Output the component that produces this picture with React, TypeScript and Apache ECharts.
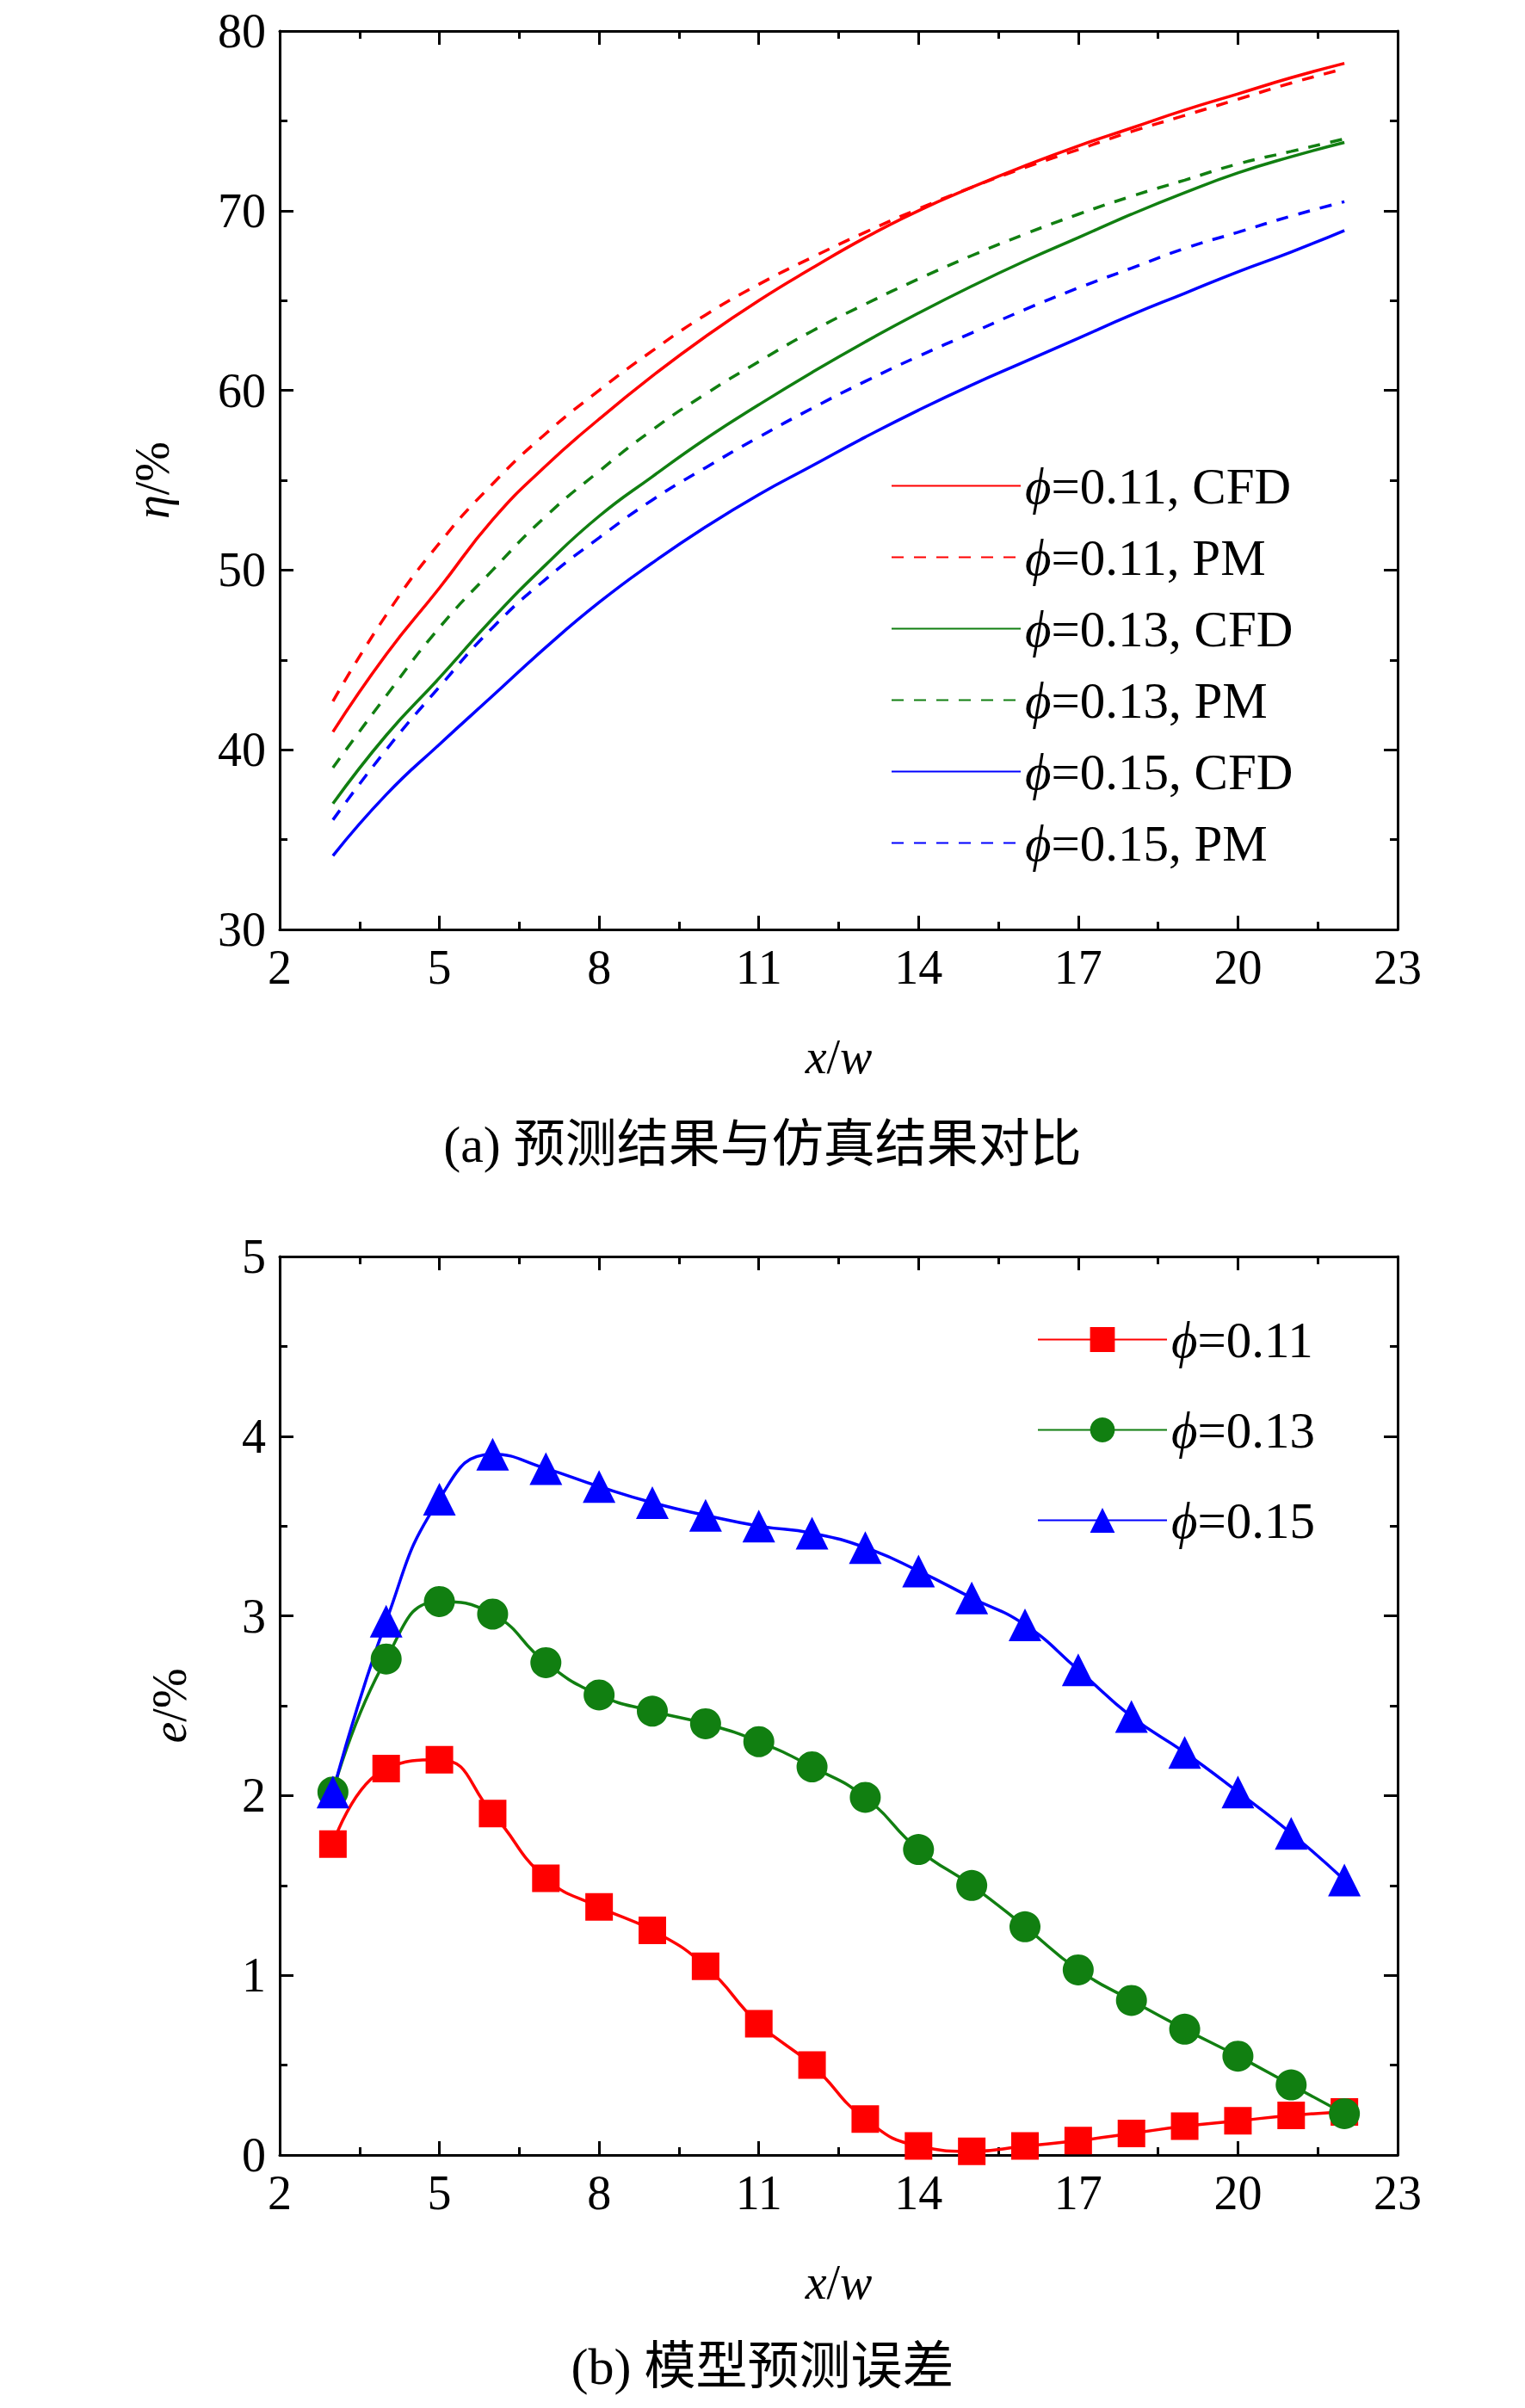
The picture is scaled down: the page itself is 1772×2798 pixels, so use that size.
import { useEffect, useRef } from "react";
import * as echarts from "echarts";

const XS = [3, 4, 5, 6, 7, 8, 9, 10, 11, 12, 13, 14, 15, 16, 17, 18, 19, 20, 21, 22];

// (a) efficiency eta/%
const RED_CFD = [41, 45.3, 49, 52.8, 55.8, 58.4, 60.8, 63, 65, 66.8, 68.5, 70, 71.3, 72.5, 73.6, 74.6, 75.6, 76.5, 77.4, 78.2];
const RED_PM = [42.7, 47.5, 51.5, 54.8, 57.6, 60, 62.2, 64.2, 65.9, 67.4, 68.8, 70.1, 71.3, 72.4, 73.4, 74.4, 75.3, 76.2, 77.1, 77.9];
const GREEN_CFD = [37, 40.8, 44, 47.3, 50.3, 53, 55.2, 57.3, 59.2, 61, 62.7, 64.3, 65.8, 67.2, 68.5, 69.8, 71, 72.1, 73, 73.8];
const GREEN_PM = [39, 43, 46.8, 50, 53, 55.5, 57.8, 59.8, 61.6, 63.3, 64.8, 66.2, 67.5, 68.7, 69.8, 70.8, 71.7, 72.6, 73.3, 74];
const BLUE_CFD = [34.1, 37.5, 40.3, 43, 45.7, 48.2, 50.4, 52.4, 54.2, 55.8, 57.4, 58.9, 60.3, 61.6, 62.9, 64.2, 65.4, 66.6, 67.7, 68.9];
const BLUE_PM = [36.1, 40, 43.5, 46.8, 49.5, 51.8, 53.9, 55.7, 57.4, 59, 60.5, 61.9, 63.2, 64.5, 65.7, 66.8, 67.9, 68.8, 69.7, 70.5];

// (b) error e/%
const ERR_11 = [1.73, 2.15, 2.2, 1.9, 1.54, 1.38, 1.25, 1.05, 0.73, 0.5, 0.2, 0.05, 0.02, 0.05, 0.08, 0.12, 0.16, 0.19, 0.22, 0.24];
const ERR_13 = [2.02, 2.76, 3.08, 3.01, 2.74, 2.56, 2.47, 2.4, 2.3, 2.16, 1.99, 1.7, 1.5, 1.27, 1.03, 0.86, 0.7, 0.55, 0.39, 0.23];
const ERR_15 = [2.02, 2.97, 3.65, 3.9, 3.82, 3.72, 3.63, 3.56, 3.5, 3.46, 3.38, 3.25, 3.1, 2.95, 2.7, 2.44, 2.24, 2.02, 1.79, 1.53];

const RED = "#FF0000";
const GREEN = "#117F11";
const BLUE = "#0000FF";
const SERIF = "Liberation Serif";
const CJK = "Noto Sans CJK SC";
const FS = 56;

const pts = (ys: number[]) => XS.map((x, i) => [x, ys[i]]);

function axisPair(grid: number, min: number, max: number, interval: number, dim: "x" | "y", name?: string, nameGap?: number) {
  const base = {
    gridIndex: grid,
    type: "value" as const,
    min,
    max,
    interval,
    axisLine: { show: true, onZero: false, lineStyle: { color: "#000", width: 3 } },
    axisTick: { show: true, inside: true, length: 16, lineStyle: { color: "#000", width: 3 } },
    minorTick: { show: true, splitNumber: 2, length: 9, lineStyle: { color: "#000", width: 3 } },
    splitLine: { show: false },
  };
  const rich = { i: { fontFamily: SERIF, fontStyle: "italic" as const, fontSize: FS }, n: { fontFamily: SERIF, fontSize: FS } };
  return [
    {
      ...base,
      position: dim === "x" ? "bottom" : "left",
      name,
      nameLocation: "middle" as const,
      nameGap,
      nameTextStyle: { color: "#000", fontFamily: SERIF, fontSize: FS, rich },
      axisLabel: { color: "#000", fontFamily: SERIF, fontSize: FS, margin: 16 },
    },
    { ...base, position: dim === "x" ? "top" : "right", axisLabel: { show: false } },
  ];
}

const legendRich = {
  i: { fontFamily: SERIF, fontStyle: "italic" as const, fontSize: 59, color: "#000" },
  n: { fontFamily: SERIF, fontSize: 59, color: "#000" },
};
const legendFmt = (name: string) => `{i|ϕ}{n|${name.slice(1)}}`;

export default function App() {
  const ref = useRef<HTMLDivElement>(null);

  useEffect(() => {
    document.body.style.margin = "0";
    if (!ref.current) return;
    const chart = echarts.init(ref.current, undefined, { renderer: "svg" });

    const line = (name: string, data: number[], color: string, dashed: boolean) => ({
      name,
      type: "line" as const,
      xAxisIndex: 0,
      yAxisIndex: 0,
      data: pts(data),
      smooth: true,
      showSymbol: false,
      symbol: "none",
      itemStyle: { color },
      lineStyle: { color, width: 3.5, type: dashed ? ([14, 12] as number[]) : ("solid" as const) },
    });
    const marker = (name: string, data: number[], color: string, symbol: string, size: number) => ({
      name,
      type: "line" as const,
      xAxisIndex: 2,
      yAxisIndex: 2,
      data: pts(data),
      smooth: true,
      symbol,
      symbolSize: size,
      itemStyle: { color },
      lineStyle: { color, width: 3.5 },
    });

    const [xa0, xa1] = axisPair(0, 2, 23, 3, "x", "{i|x}{n|/}{i|w}", 120);
    const [xb0, xb1] = axisPair(1, 2, 23, 3, "x", "{i|x}{n|/}{i|w}", 120);
    const [ya0, ya1] = axisPair(0, 30, 80, 10, "y", "{i|η}{n|/%}", 120);
    const [yb0, yb1] = axisPair(1, 0, 5, 1, "y", "{i|e}{n|/%}", 100);

    chart.setOption({
      animation: false,
      backgroundColor: "#fff",
      grid: [
        { left: 325, top: 36, width: 1299, height: 1044 },
        { left: 325, top: 1460, width: 1299, height: 1044 },
      ],
      xAxis: [xa0, xa1, xb0, xb1],
      yAxis: [ya0, ya1, yb0, yb1],
      legend: [
        {
          data: ["φ=0.11, CFD", "φ=0.11, PM", "φ=0.13, CFD", "φ=0.13, PM", "φ=0.15, CFD", "φ=0.15, PM"],
          orient: "vertical",
          left: 1030,
          top: 530,
          itemWidth: 150,
          itemHeight: 20,
          itemGap: 24,
          itemStyle: { opacity: 0 },
          formatter: legendFmt,
          textStyle: { rich: legendRich },
        },
        {
          data: ["φ=0.11", "φ=0.13", "φ=0.15"],
          orient: "vertical",
          left: 1200,
          top: 1522,
          itemWidth: 150,
          itemHeight: 36,
          itemGap: 46,
          formatter: legendFmt,
          textStyle: { rich: legendRich },
        },
      ],
      graphic: [
        {
          type: "text",
          left: "center",
          top: 1300,
          style: { text: "(a) 预测结果与仿真结果对比", font: `60px "${SERIF}", "${CJK}"`, fill: "#000" },
        },
        {
          type: "text",
          left: "center",
          top: 2720,
          style: { text: "(b) 模型预测误差", font: `60px "${SERIF}", "${CJK}"`, fill: "#000" },
        },
      ],
      series: [
        line("φ=0.11, CFD", RED_CFD, RED, false),
        line("φ=0.11, PM", RED_PM, RED, true),
        line("φ=0.13, CFD", GREEN_CFD, GREEN, false),
        line("φ=0.13, PM", GREEN_PM, GREEN, true),
        line("φ=0.15, CFD", BLUE_CFD, BLUE, false),
        line("φ=0.15, PM", BLUE_PM, BLUE, true),
        marker("φ=0.11", ERR_11, RED, "rect", 32),
        marker("φ=0.13", ERR_13, GREEN, "circle", 36),
        marker("φ=0.15", ERR_15, BLUE, "triangle", 38),
      ],
    });

    return () => chart.dispose();
  }, []);

  return <div ref={ref} style={{ width: 1772, height: 2798 }} />;
}
